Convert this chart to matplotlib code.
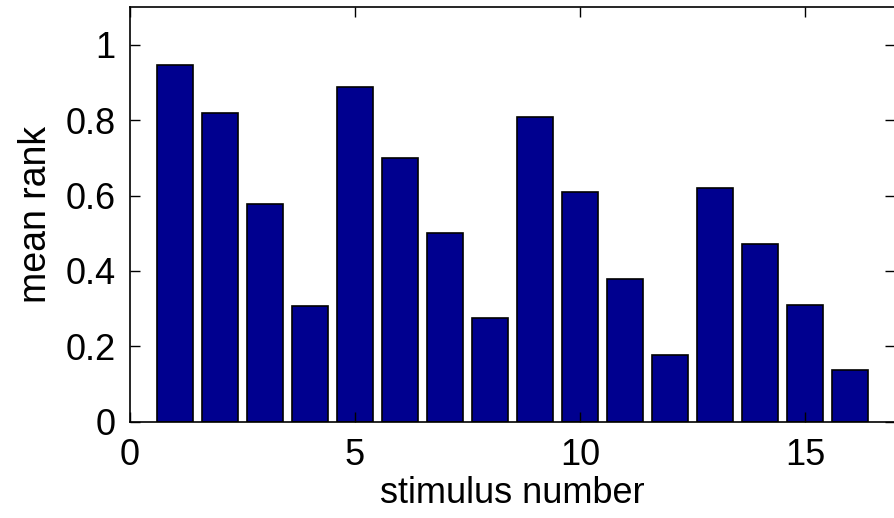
import matplotlib
matplotlib.use("Agg")
import matplotlib.pyplot as plt
import numpy as np

# mean rank per stimulus
stimulus = np.arange(1, 17)
mean_rank = [0.947, 0.819, 0.578, 0.306, 0.887, 0.700, 0.502, 0.275,
             0.810, 0.610, 0.379, 0.176, 0.620, 0.472, 0.310, 0.137]
xticks = [0, 5, 10, 15]
yticks = [0, 0.2, 0.4, 0.6, 0.8, 1]

plt.rcParams['font.family'] = ['Liberation Sans', 'DejaVu Sans']

fig = plt.figure(figsize=(8.95, 5.18), dpi=100)
ax = fig.add_axes([0.1449, 0.186, 0.855, 0.80])

ax.bar(stimulus, mean_rank, width=0.8, color='#00008F', edgecolor='black', linewidth=1.2)

ax.set_xlim(0, 17)
ax.set_ylim(0, 1.1)
ax.set_xticks(xticks)
ax.set_yticks(yticks)
ax.set_yticklabels(['0', '0.2', '0.4', '0.6', '0.8', '1'])
ax.tick_params(direction='in', length=7, width=1, top=True, right=True, labelsize=26)
ax.tick_params(axis='y', pad=10)
ax.tick_params(axis='x', pad=12)
for s in ax.spines.values():
    s.set_linewidth(1.2)

ax.set_xlabel('stimulus number', fontsize=26, labelpad=2)
ax.set_ylabel('mean rank', fontsize=27, labelpad=8)

fig.savefig('out.png', dpi=100)
